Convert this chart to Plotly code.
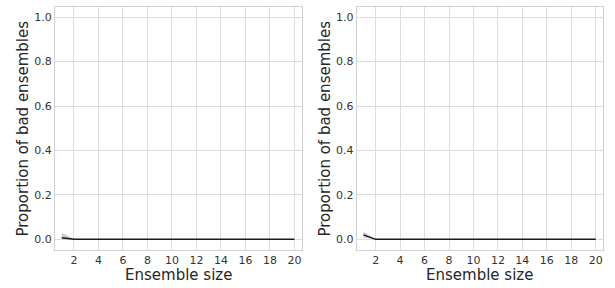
import plotly.graph_objects as go

ensemble_size = list(range(1, 21))
left_mean = [0.007] + [0.0] * 19
left_low = [0.0] + [0.0] * 19
left_high = [0.03] + [0.0] * 19
right_mean = [0.02] + [0.0] * 19
right_low = [0.008] + [0.0] * 19
right_high = [0.034] + [0.0] * 19
x_ticks = list(range(2, 21, 2))
y_ticks = [0.0, 0.2, 0.4, 0.6, 0.8, 1.0]
x_title = "Ensemble size"
y_title = "Proportion of bad ensembles"

W, H = 615, 288
fig = go.Figure()

def add_panel(mean, low, high, xa, ya):
    fig.add_trace(go.Scatter(x=ensemble_size, y=high, mode="lines", line=dict(width=0),
                             xaxis=xa, yaxis=ya, showlegend=False, hoverinfo="skip"))
    fig.add_trace(go.Scatter(x=ensemble_size, y=low, mode="lines", line=dict(width=0),
                             fill="tonexty", fillcolor="rgba(0,0,0,0.2)",
                             xaxis=xa, yaxis=ya, showlegend=False, hoverinfo="skip"))
    fig.add_trace(go.Scatter(x=ensemble_size, y=mean, mode="lines",
                             line=dict(color="#1a1a1a", width=1.5),
                             xaxis=xa, yaxis=ya, showlegend=False))

add_panel(left_mean, left_low, left_high, "x", "y")
add_panel(right_mean, right_low, right_high, "x2", "y2")

tickfont = dict(size=11, family="DejaVu Sans", color="#333333")
xcommon = dict(range=[0.45, 20.62], tickvals=x_ticks, showgrid=True, gridcolor="#dcdcdc",
               gridwidth=1, showline=True, linecolor="#d0d0d0", linewidth=1, mirror=True,
               zeroline=False, ticks="", tickfont=tickfont, automargin=False)
ycommon = dict(range=[-0.048, 1.046], tickvals=y_ticks, tickformat=".1f", showgrid=True,
               gridcolor="#dcdcdc", gridwidth=1, showline=True, linecolor="#d0d0d0", linewidth=1,
               mirror=True, zeroline=False, ticks="", tickfont=tickfont, automargin=False)

def px_x(v):
    return v / W

def px_y(v):
    return 1 - v / H

ytop, ybot = px_y(7), px_y(250)
dom1 = [px_x(55), px_x(302)]
dom2 = [px_x(356.7), px_x(603.3)]

title_font = dict(size=15, family="DejaVu Sans", color="#262626")
annotations = []
for dom, ytx in [(dom1, 22), (dom2, 324)]:
    annotations.append(dict(text=x_title, xref="paper", yref="paper",
                            x=(dom[0] + dom[1]) / 2, y=px_y(275), xanchor="center",
                            yanchor="middle", showarrow=False, font=title_font))
    annotations.append(dict(text=y_title, xref="paper", yref="paper", textangle=-90,
                            x=px_x(ytx), y=(ytop + ybot) / 2, xanchor="center",
                            yanchor="middle", showarrow=False, font=title_font))

fig.update_layout(
    width=W, height=H, margin=dict(l=0, r=0, t=0, b=0),
    paper_bgcolor="white", plot_bgcolor="white",
    font=dict(family="DejaVu Sans", color="#262626"),
    xaxis=dict(domain=dom1, anchor="y", **xcommon),
    yaxis=dict(domain=[ybot, ytop], anchor="x", **ycommon),
    xaxis2=dict(domain=dom2, anchor="y2", **xcommon),
    yaxis2=dict(domain=[ybot, ytop], anchor="x2", **ycommon),
    annotations=annotations,
)

fig.write_html("out.html", config={"displayModeBar": False},
               post_script="document.body.style.margin='0px';")
